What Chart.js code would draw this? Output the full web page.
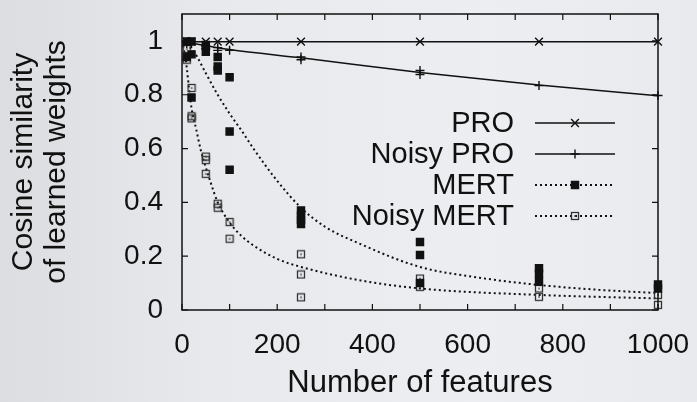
<!DOCTYPE html>
<html>
<head>
<meta charset="utf-8">
<script src="https://cdn.jsdelivr.net/npm/chart.js@4/dist/chart.umd.min.js"></script>
<style>
  html, body { margin: 0; padding: 0; }
  body {
    width: 697px; height: 402px; overflow: hidden;
    background: linear-gradient(90deg, #dcdde0 0%, #e8e9ec 30%, #eceef1 70%, #e9eaed 100%);
  }
  #wrap { position: relative; width: 697px; height: 402px; }
</style>
</head>
<body>
<div id="wrap"><canvas id="chart" width="697" height="402"></canvas></div>
<script>
// measured points
const PRO_X = [10, 20, 50, 75, 100, 250, 500, 750, 1000];
const PRO_Y = [0.997, 0.997, 0.997, 0.997, 0.997, 0.997, 0.997, 0.997, 0.997];

const NPRO_X = [10, 20, 50, 50, 75, 75, 100, 250, 250, 500, 500, 750, 1000];
const NPRO_Y = [0.99, 0.99, 0.98, 0.97, 0.975, 0.965, 0.965, 0.94, 0.93, 0.89, 0.875, 0.834, 0.797];

const MERT_X = [10, 10, 20, 20, 20, 50, 50, 75, 75, 75, 100, 100, 100, 250, 250, 250, 250, 500, 500, 500, 750, 750, 750, 1000, 1000];
const MERT_Y = [0.998, 0.94, 0.998, 0.95, 0.79, 0.985, 0.96, 0.94, 0.905, 0.89, 0.865, 0.663, 0.521, 0.37, 0.35, 0.335, 0.32, 0.253, 0.204, 0.10, 0.155, 0.135, 0.105, 0.095, 0.08];

const NMERT_X = [10, 10, 20, 20, 20, 50, 50, 50, 75, 75, 100, 100, 250, 250, 250, 500, 500, 750, 750, 1000, 1000];
const NMERT_Y = [0.97, 0.93, 0.825, 0.72, 0.712, 0.57, 0.557, 0.506, 0.395, 0.38, 0.327, 0.265, 0.207, 0.132, 0.047, 0.117, 0.086, 0.08, 0.049, 0.056, 0.019];

// fitted curves
const PRO_FIT_X = [0, 1000];
const PRO_FIT_Y = [0.997, 0.997];
const NPRO_FIT_X = [0, 100, 250, 500, 750, 1000];
const NPRO_FIT_Y = [0.998, 0.968, 0.937, 0.883, 0.836, 0.796];
const MERT_FIT_X = [0, 25, 50, 75, 100, 125, 150, 200, 250, 300, 375, 500, 625, 750, 875, 1000];
const MERT_FIT_Y = [1.0, 0.96, 0.88, 0.80, 0.73, 0.667, 0.60, 0.48, 0.38, 0.31, 0.245, 0.16, 0.12, 0.093, 0.075, 0.063];
const NMERT_FIT_X = [0, 5, 10, 15, 20, 30, 40, 50, 60, 75, 100, 125, 150, 200, 250, 375, 500, 750, 1000];
const NMERT_FIT_Y = [1.0, 0.96, 0.9, 0.82, 0.75, 0.67, 0.59, 0.53, 0.475, 0.40, 0.325, 0.275, 0.24, 0.19, 0.16, 0.11, 0.08, 0.056, 0.043];

const LABELS = ['PRO', 'Noisy PRO', 'MERT', 'Noisy MERT'];
const X_TICKS = [0, 100, 200, 300, 400, 500, 600, 700, 800, 900, 1000];
const Y_TICKS = [0, 0.2, 0.4, 0.6, 0.8, 1];

const FONT = '"Liberation Sans", Arial, Helvetica, sans-serif';
const INK = '#111';
const DOTS = [2, 3];

const zip = (xs, ys) => xs.map((x, i) => ({ x, y: ys[i] }));

// open square with a dot, like gnuplot pt 5 outline
const openSquare = (() => {
    const c = document.createElement('canvas');
    c.width = 10; c.height = 10;
    const g = c.getContext('2d');
    g.strokeStyle = '#333';
    g.lineWidth = 1.3;
    g.strokeRect(1.5, 1.5, 7, 7);
    g.fillStyle = '#333';
    g.fillRect(4.3, 4.3, 1.5, 1.5);
    return c;
})();

const pointSet = (label, xs, ys, style, radius, fill) => ({
    label, data: zip(xs, ys), showLine: false, clip: false,
    pointStyle: style, pointRadius: radius, pointHoverRadius: radius,
    borderColor: INK, backgroundColor: fill, pointBorderWidth: 1.4
});
const fitSet = (xs, ys, dash) => ({
    data: zip(xs, ys), showLine: true, pointRadius: 0, borderColor: INK,
    borderWidth: dash ? 2 : 1.5, borderDash: dash || [], cubicInterpolationMode: 'monotone'
});

const frameTicks = {
    id: 'frameTicks',
    afterDatasetsDraw(chart) {
        const { ctx, chartArea: a, scales: { x, y } } = chart;
        ctx.save();
        ctx.strokeStyle = INK;
        ctx.lineWidth = 1.5;
        ctx.strokeRect(a.left, a.top, a.right - a.left, a.bottom - a.top);
        ctx.lineWidth = 1.2;
        ctx.beginPath();
        X_TICKS.forEach(v => {
            const px = x.getPixelForValue(v);
            ctx.moveTo(px, a.bottom); ctx.lineTo(px, a.bottom - 6);
            ctx.moveTo(px, a.top); ctx.lineTo(px, a.top + 6);
        });
        Y_TICKS.forEach(v => {
            const py = y.getPixelForValue(v);
            ctx.moveTo(a.left, py); ctx.lineTo(a.left + 6, py);
            ctx.moveTo(a.right, py); ctx.lineTo(a.right - 6, py);
        });
        ctx.stroke();
        ctx.restore();
    }
};

// gnuplot-style key: right-aligned text, then line sample with marker
const keyBox = {
    id: 'keyBox',
    afterDatasetsDraw(chart) {
        const { ctx } = chart;
        const ds = chart.data.datasets;
        ctx.save();
        ctx.font = '29px ' + FONT;
        ctx.textAlign = 'right';
        ctx.textBaseline = 'middle';
        LABELS.forEach((label, i) => {
            const yc = 123 + i * 31;
            const pts = ds[i], fit = ds[i + 4];
            ctx.fillStyle = INK;
            ctx.fillText(label, 514, yc + 1);
            ctx.strokeStyle = INK;
            ctx.lineWidth = fit.borderWidth;
            ctx.setLineDash(fit.borderDash);
            ctx.beginPath();
            ctx.moveTo(535, yc); ctx.lineTo(615, yc);
            ctx.stroke();
            ctx.setLineDash([]);
            ctx.lineWidth = pts.pointBorderWidth;
            ctx.fillStyle = pts.backgroundColor;
            Chart.helpers.drawPoint(ctx, { pointStyle: pts.pointStyle, radius: pts.pointRadius, borderWidth: pts.pointBorderWidth, rotation: 0 }, 575, yc);
        });
        ctx.restore();
    }
};

new Chart(document.getElementById('chart'), {
    type: 'scatter',
    data: {
        datasets: [
            pointSet(LABELS[0], PRO_X, PRO_Y, 'crossRot', 5.5, INK),
            pointSet(LABELS[1], NPRO_X, NPRO_Y, 'cross', 4.5, INK),
            pointSet(LABELS[2], MERT_X, MERT_Y, 'rect', 5, INK),
            pointSet(LABELS[3], NMERT_X, NMERT_Y, openSquare, 5, 'rgba(0,0,0,0)'),
            fitSet(PRO_FIT_X, PRO_FIT_Y),
            fitSet(NPRO_FIT_X, NPRO_FIT_Y),
            fitSet(MERT_FIT_X, MERT_FIT_Y, DOTS),
            fitSet(NMERT_FIT_X, NMERT_FIT_Y, DOTS)
        ]
    },
    options: {
        responsive: false,
        animation: false,
        events: [],
        layout: { padding: { top: 14, right: 39, bottom: 0, left: 0 } },
        plugins: { legend: { display: false }, tooltip: { enabled: false } },
        scales: {
            x: {
                type: 'linear', min: 0, max: 1000,
                grid: { display: false, drawTicks: false },
                border: { display: false },
                afterBuildTicks: s => { s.ticks = X_TICKS.map(value => ({ value })); },
                afterFit: s => { s.height = 92; s.paddingLeft = 0; s.paddingRight = 0; },
                ticks: {
                    font: { family: FONT, size: 28 }, color: INK, padding: 18, maxRotation: 0, autoSkip: false,
                    callback: v => (v % 200 === 0 ? String(v) : '')
                },
                title: { display: true, text: 'Number of features', font: { family: FONT, size: 31 }, color: INK, padding: { top: 2, bottom: 0 } }
            },
            y: {
                type: 'linear', min: 0, max: 1.1,
                grid: { display: false, drawTicks: false },
                border: { display: false },
                afterBuildTicks: s => { s.ticks = Y_TICKS.map(value => ({ value })); },
                afterFit: s => { s.width = 182; s.paddingTop = 0; s.paddingBottom = 0; },
                ticks: { font: { family: FONT, size: 28 }, color: INK, padding: 19, callback: v => String(+v.toFixed(2)) },
                title: { display: true, text: ['Cosine similarity', 'of learned weights'], font: { family: FONT, size: 30, lineHeight: 1.1 }, color: INK, padding: { top: 7, bottom: 0 } }
            }
        }
    },
    plugins: [frameTicks, keyBox]
});
</script>
</body>
</html>
